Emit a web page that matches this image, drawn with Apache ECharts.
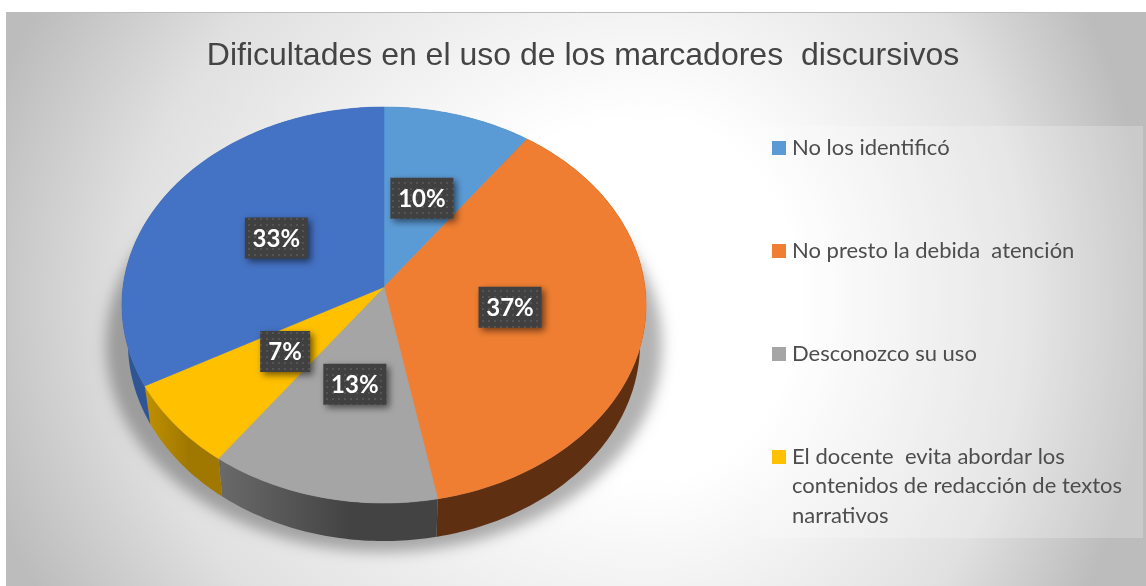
<!DOCTYPE html>
<html>
<head>
<meta charset="utf-8">
<style>
  html, body { margin: 0; padding: 0; background: #fff; }
  #main { width: 1146px; height: 586px; }
</style>
<script src="https://cdn.jsdelivr.net/npm/echarts@6/dist/echarts.min.js"></script>
</head>
<body>
<div id="main"></div>
<script>
const titleText = 'Dificultades en el uso de los marcadores  discursivos';
const categories = ['No los identificó', 'No presto la debida  atención', 'Desconozco su uso', 'El docente  evita abordar los\ncontenidos de redacción de textos\nnarrativos'];
const allNames = [categories[0], categories[1], categories[2], categories[3], 'Sin nombre'];
const values = [10, 37, 13, 7, 33];
const topColors = ['#5b9bd5', '#ef7e32', '#a5a5a5', '#ffc000', '#4472c4'];
const wallFrom = ['#37618a', '#5f2f12', '#6a6a6a', '#c09000', '#2f5597'];
const wallTo = ['#37618a', '#5f2f12', '#434343', '#a07800', '#2f5597'];

// tilted disc: apex and perspective
const cx = 384, cy = 287, rx = 261, ry = 196.4, persp = 0.0909, depth = 38, lowScale = 0.977;
const total = values.reduce((a, b) => a + b, 0);

function project(deg, f) {
  const t = deg * Math.PI / 180;
  const u = Math.sin(t) * f, v = -Math.cos(t) * f;
  const w = 1 - persp * v;
  return [cx + rx * u / w, cy + ry * v / w];
}

// little dots on the label boxes
const dots = document.createElement('canvas');
dots.width = dots.height = 6;
const dotsCtx = dots.getContext('2d');
dotsCtx.fillStyle = '#404040';
dotsCtx.fillRect(0, 0, 6, 6);
dotsCtx.fillStyle = '#545454';
dotsCtx.fillRect(2, 2, 2, 2);

function renderSlice(params, api) {
  const i = params.dataIndex;
  let start = 0;
  for (let k = 0; k < i; k++) start += values[k] / total * 360;
  const end = start + values[i] / total * 360;

  const rim = [];
  for (let a = start; a < end; a += 1) rim.push(project(a, 1));
  rim.push(project(end, 1));

  const low = rim.map(p => [cx + (p[0] - cx) * lowScale, p[1] + depth]).reverse();
  const xs = rim.map(p => p[0]);
  const mid = project((start + end) / 2, 0.49);
  const label = Math.round(api.value(0) / total * 100) + '%';
  const boxW = label.length > 2 ? 63 : 50, boxH = 41;

  return {
    type: 'group',
    children: [
      {
        type: 'polygon', z2: 1,
        shape: { points: rim.concat(low) },
        style: {
          fill: {
            type: 'linear', global: true,
            x: Math.min(...xs), y: 0, x2: Math.max(...xs), y2: 0,
            colorStops: [{ offset: 0, color: wallFrom[i] }, { offset: 0.6, color: wallTo[i] }, { offset: 1, color: wallTo[i] }]
          }
        }
      },
      {
        type: 'polygon', z2: 5,
        shape: { points: [[cx, cy]].concat(rim) },
        style: { fill: topColors[i], stroke: topColors[i], lineWidth: 0.5 }
      },
      {
        type: 'rect', z2: 10,
        shape: { x: mid[0] - boxW / 2, y: mid[1] - boxH / 2 - 1, width: boxW, height: boxH },
        style: {
          fill: { image: dots, repeat: 'repeat' },
          shadowBlur: 7, shadowOffsetX: 3, shadowOffsetY: 3, shadowColor: 'rgba(0,0,0,0.55)'
        }
      },
      {
        type: 'text', z2: 11,
        style: {
          text: label, x: mid[0], y: mid[1],
          align: 'center', verticalAlign: 'middle',
          fill: '#fff', font: 'bold 24px Lato'
        }
      }
    ]
  };
}

const legendY = [148, 251, 354, 457];
const legendParts = [];
categories.forEach((name, i) => {
  legendParts.push({
    type: 'rect', z: 3,
    shape: { x: 772, y: legendY[i] - 7, width: 14, height: 14 },
    style: { fill: topColors[i] }
  });
  legendParts.push({
    type: 'text', z: 3,
    style: {
      text: name, x: 792, y: legendY[i] - 15,
      fill: '#4d4d4d', font: '22px Lato', lineHeight: 29.5
    }
  });
});

// background glow: unit circle stretched, wider to the left than to the right
const glowStops = [{ offset: 0, color: '#ffffff' }, { offset: 0.3, color: '#ffffff' }, { offset: 0.75, color: '#e0e0e0' }, { offset: 1, color: '#bcbcbc' }];
const glowFill = { type: 'radial', global: true, x: 0, y: 0, r: 1, colorStops: glowStops };
const glowX = 650, glowY = 300, glowLeft = 700, glowRight = 500, glowTall = 600;

const chart = echarts.init(document.getElementById('main'), null, { renderer: 'canvas' });
chart.setOption({
  animation: false,
  title: {
    text: titleText,
    left: 578, top: 35, textAlign: 'center',
    textStyle: { fontFamily: 'Liberation Sans', fontSize: 32, fontWeight: 'normal', color: '#444' }
  },
  graphic: [
    {
      type: 'rect', z: 0, x: glowX, y: glowY, scaleX: glowLeft, scaleY: glowTall,
      shape: { x: -(glowX - 6) / glowLeft, y: -(glowY - 12) / glowTall, width: (glowX - 6) / glowLeft, height: 574 / glowTall },
      style: { fill: glowFill }
    },
    {
      type: 'rect', z: 0, x: glowX, y: glowY, scaleX: glowRight, scaleY: glowTall,
      shape: { x: 0, y: -(glowY - 12) / glowTall, width: (1146 - glowX) / glowRight, height: 574 / glowTall },
      style: { fill: glowFill }
    },
    {
      type: 'rect', z: 1,
      shape: { x: 6.5, y: 12.5, width: 1141, height: 575 },
      style: { fill: 'none', stroke: '#bdbdbd', lineWidth: 1 }
    },
    {
      type: 'rect', z: 1,
      shape: { x: 760, y: 126, width: 383, height: 412 },
      style: { fill: 'rgba(255,255,255,0.22)' }
    },
    {
      // soft ground shadow, only the blurred copy lands on the page
      type: 'ellipse', z: 1,
      shape: { cx: 384 + 3000, cy: 345, rx: 278, ry: 207 },
      style: { fill: '#000', shadowBlur: 14, shadowOffsetX: -3000, shadowColor: 'rgba(0,0,0,0.3)' }
    }
  ].concat(legendParts),
  series: [{
    type: 'custom',
    coordinateSystem: 'none',
    name: titleText,
    z: 2,
    data: values.map((v, i) => ({ name: allNames[i], value: [v] })),
    renderItem: renderSlice
  }]
});
</script>
</body>
</html>
